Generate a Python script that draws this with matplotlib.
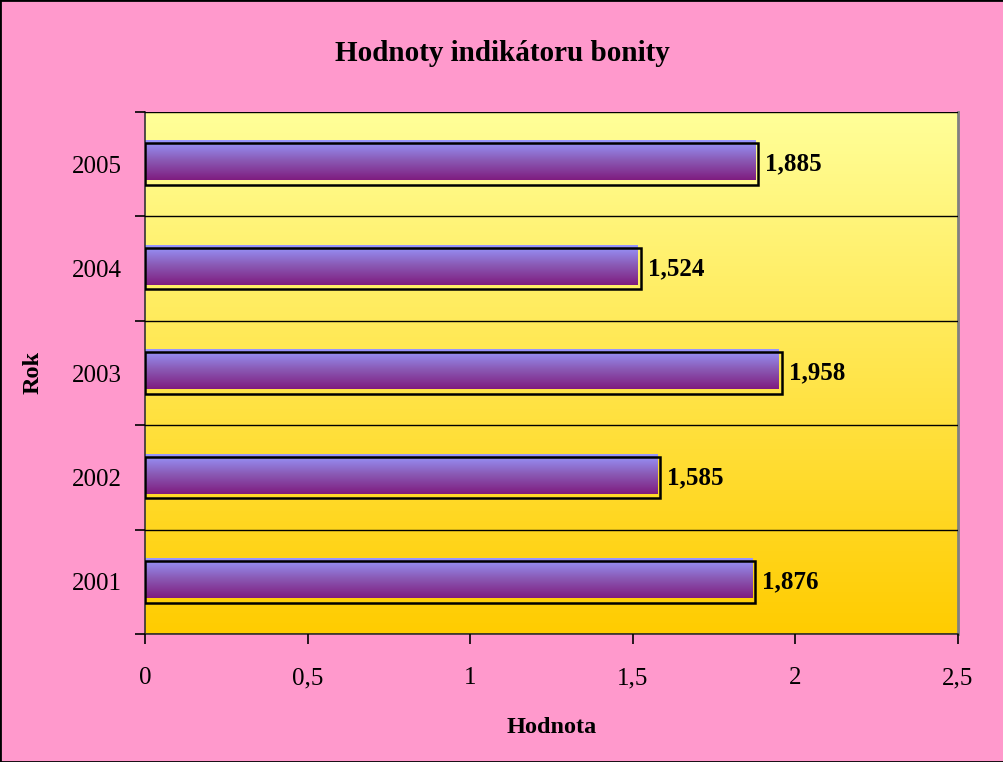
import matplotlib.pyplot as plt
import numpy as np
from matplotlib.colors import LinearSegmentedColormap
from matplotlib.patches import Rectangle
import matplotlib.transforms as mtransforms

years = ['2001', '2002', '2003', '2004', '2005']
values = [1.876, 1.585, 1.958, 1.524, 1.885]
value_labels = ['1,876', '1,585', '1,958', '1,524', '1,885']
x_ticks = [0, 0.5, 1, 1.5, 2, 2.5]
x_tick_labels = ['0', '0,5', '1', '1,5', '2', '2,5']

plt.rcParams['font.family'] = ['Liberation Serif', 'DejaVu Serif']

fig = plt.figure(figsize=(10.04, 7.62), dpi=100, facecolor='#FF99CC')
ax = fig.add_axes([145 / 1004, 1 - 634 / 762, (958 - 145) / 1004, (634 - 112) / 762])

# plot area gradient background (light yellow -> gold)
bg_cmap = LinearSegmentedColormap.from_list('bg', ['#FFCC00', '#FFFF99'])
grad = np.linspace(0, 1, 256).reshape(-1, 1)
ax.imshow(grad, cmap=bg_cmap, extent=[0, 1, 0, 1], transform=ax.transAxes,
          origin='lower', aspect='auto', zorder=0)

ax.set_xlim(0, 2.5)
ax.set_ylim(-0.5, 4.5)

# bars: gradient fill slightly shifted, black outline on top
bar_cmap = LinearSegmentedColormap.from_list('bar', ['#7F1C7F', '#8A5AB5', '#9898FF'])
shift = mtransforms.ScaledTranslation(-3 / 100, 2.5 / 100, fig.dpi_scale_trans)
h = 0.4
for i, v in enumerate(values):
    ax.imshow(grad, cmap=bar_cmap, extent=[0, v, i - h / 2 + 0.02, i + h / 2],
              origin='lower', aspect='auto', zorder=2,
              transform=ax.transData + shift)
    ax.add_patch(Rectangle((0, i - h / 2), v, h, facecolor='none',
                           edgecolor='black', linewidth=1.8, zorder=3))
    ax.annotate(value_labels[i], xy=(v, i), xytext=(5, 0), textcoords='offset points',
                va='center', ha='left', fontsize=18, fontweight='bold', zorder=4)

# gridlines at category boundaries
ax.set_yticks(np.arange(-0.5, 5, 1))
ax.set_yticklabels([])
ax.set_yticks(range(len(years)), minor=True)
ax.set_yticklabels(years, minor=True, fontsize=18)
ax.tick_params(axis='y', which='major', length=7, width=1.2, direction='out')
ax.tick_params(axis='y', which='minor', length=0, pad=17)
ax.yaxis.grid(True, which='major', color='black', linewidth=1)
ax.set_axisbelow(False)

ax.set_xticks(x_ticks)
ax.set_xticklabels(x_tick_labels, fontsize=18)
ax.tick_params(axis='x', length=7, width=1.2, direction='out', pad=17)

for s in ['left', 'bottom']:
    ax.spines[s].set_linewidth(1.2)
    ax.spines[s].set_color('#333333')
ax.spines['right'].set_color('#808080')
ax.spines['right'].set_linewidth(2)
ax.spines['top'].set_visible(False)

ax.set_xlabel('Hodnota', fontsize=17.5, fontweight='bold', labelpad=20)
ax.set_ylabel('Rok', fontsize=17.5, fontweight='bold', labelpad=20)
fig.suptitle('Hodnoty indikátoru bonity', fontsize=21, fontweight='bold', y=0.947)

# outer figure border
fig.patches.append(Rectangle((0, 0), 1, 1, transform=fig.transFigure, fill=False,
                             edgecolor='black', linewidth=2))

fig.savefig('out.png', dpi=100, facecolor=fig.get_facecolor())
